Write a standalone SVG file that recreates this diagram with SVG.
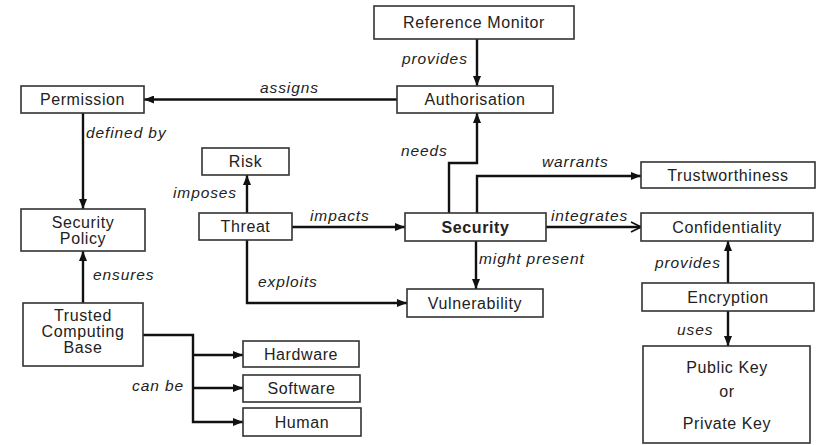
<svg xmlns="http://www.w3.org/2000/svg" width="819" height="445" viewBox="0 0 819 445">
  <defs>
    <marker id="arrow" viewBox="0 0 10 8" refX="10" refY="4" markerWidth="10" markerHeight="8" markerUnits="userSpaceOnUse" orient="auto">
      <path d="M0,0 L10,4 L0,8 Z" fill="#111"/>
    </marker>
    <marker id="open" viewBox="0 0 12 12" refX="11" refY="6" markerWidth="12" markerHeight="12" markerUnits="userSpaceOnUse" orient="auto">
      <path d="M1,1 L11,6 L1,11" fill="none" stroke="#111" stroke-width="1.6"/>
    </marker>
    <style>
      .box { fill: #fff; stroke: #333; stroke-width: 1.6; }
      .t { font-family: "Liberation Sans", Arial, sans-serif; font-size: 16px; fill: #222; text-anchor: middle; letter-spacing: 0.6px; }
      .b { font-weight: bold; }
      .lbl { font-family: "Liberation Sans", Arial, sans-serif; font-size: 15.5px; font-style: italic; fill: #222; letter-spacing: 0.9px; }
      .c { fill: none; stroke: #111; stroke-width: 2.4; }
    </style>
  </defs>
  <rect width="819" height="445" fill="#fff"/>

  <!-- connectors -->
  <g id="connectors">
    <path class="c" d="M477,39 V86" marker-end="url(#arrow)"/>
    <path class="c" d="M397,99.5 H144" marker-end="url(#arrow)"/>
    <path class="c" d="M83,113 V209" marker-end="url(#arrow)"/>
    <path class="c" d="M449,213 V163 H477 V113" marker-end="url(#arrow)"/>
    <path class="c" d="M477,213 V176 H641" marker-end="url(#arrow)"/>
    <path class="c" d="M247,213 V175" marker-end="url(#arrow)"/>
    <path class="c" d="M292,227 H405" marker-end="url(#arrow)"/>
    <path class="c" d="M247,240 V303 H407" marker-end="url(#arrow)"/>
    <path class="c" d="M476,241 V289" marker-end="url(#arrow)"/>
    <path class="c" d="M546,227 H641" marker-end="url(#open)"/>
    <path class="c" d="M728,283 V241" marker-end="url(#arrow)"/>
    <path class="c" d="M728,311 V346" marker-end="url(#arrow)"/>
    <path class="c" d="M83,303 V251" marker-end="url(#arrow)"/>
    <path class="c" d="M143,335 H193 V422 H243" marker-end="url(#arrow)"/>
    <path class="c" d="M193,355 H243" marker-end="url(#arrow)"/>
    <path class="c" d="M193,388 H243" marker-end="url(#arrow)"/>

    <text class="lbl" x="402" y="64">provides</text>
    <text class="lbl" x="260" y="93">assigns</text>
    <text class="lbl" x="86" y="138">defined by</text>
    <text class="lbl" x="401" y="156">needs</text>
    <text class="lbl" x="542" y="167">warrants</text>
    <text class="lbl" x="173" y="198">imposes</text>
    <text class="lbl" x="310" y="221">impacts</text>
    <text class="lbl" x="551" y="221">integrates</text>
    <text class="lbl" x="479" y="264">might present</text>
    <text class="lbl" x="655" y="268">provides</text>
    <text class="lbl" x="258" y="287">exploits</text>
    <text class="lbl" x="93" y="280">ensures</text>
    <text class="lbl" x="677" y="335">uses</text>
    <text class="lbl" x="132" y="391">can be</text>
  </g>

  <!-- nodes -->
  <g id="reference-monitor">
    <rect class="box" x="374" y="6" width="200" height="33"/>
    <text class="t" x="474" y="28">Reference Monitor</text>
  </g>
  <g id="authorisation">
    <rect class="box" x="397" y="86" width="156" height="27"/>
    <text class="t" x="475" y="105">Authorisation</text>
  </g>
  <g id="permission">
    <rect class="box" x="21" y="86" width="123" height="27"/>
    <text class="t" x="82.5" y="105">Permission</text>
  </g>
  <g id="risk">
    <rect class="box" x="202" y="148" width="87" height="27"/>
    <text class="t" x="245.5" y="167">Risk</text>
  </g>
  <g id="trustworthiness">
    <rect class="box" x="641" y="162" width="174" height="26"/>
    <text class="t" x="728" y="181">Trustworthiness</text>
  </g>
  <g id="security-policy">
    <rect class="box" x="21" y="209" width="124" height="42"/>
    <text class="t" x="83" y="228">Security</text>
    <text class="t" x="83" y="244">Policy</text>
  </g>
  <g id="threat">
    <rect class="box" x="199" y="213" width="93" height="27"/>
    <text class="t" x="245.5" y="232">Threat</text>
  </g>
  <g id="security">
    <rect class="box" x="405" y="213" width="141" height="28"/>
    <text class="t b" x="475.5" y="233">Security</text>
  </g>
  <g id="confidentiality">
    <rect class="box" x="641" y="213" width="172" height="28"/>
    <text class="t" x="727" y="233">Confidentiality</text>
  </g>
  <g id="encryption">
    <rect class="box" x="642" y="283" width="172" height="28"/>
    <text class="t" x="728" y="303">Encryption</text>
  </g>
  <g id="vulnerability">
    <rect class="box" x="407" y="289" width="136" height="28"/>
    <text class="t" x="475" y="309">Vulnerability</text>
  </g>
  <g id="trusted-computing-base">
    <rect class="box" x="23" y="303" width="120" height="63"/>
    <text class="t" x="83" y="321">Trusted</text>
    <text class="t" x="83" y="337">Computing</text>
    <text class="t" x="83" y="353">Base</text>
  </g>
  <g id="hardware">
    <rect class="box" x="243" y="341" width="116" height="26"/>
    <text class="t" x="301" y="360">Hardware</text>
  </g>
  <g id="software">
    <rect class="box" x="243" y="375" width="117" height="27"/>
    <text class="t" x="301.5" y="394">Software</text>
  </g>
  <g id="human">
    <rect class="box" x="243" y="408" width="118" height="28"/>
    <text class="t" x="302" y="428">Human</text>
  </g>
  <g id="key">
    <rect class="box" x="643" y="346" width="167" height="97"/>
    <text class="t" x="727" y="373">Public Key</text>
    <text class="t" x="727" y="397">or</text>
    <text class="t" x="727" y="429">Private Key</text>
  </g>
</svg>
